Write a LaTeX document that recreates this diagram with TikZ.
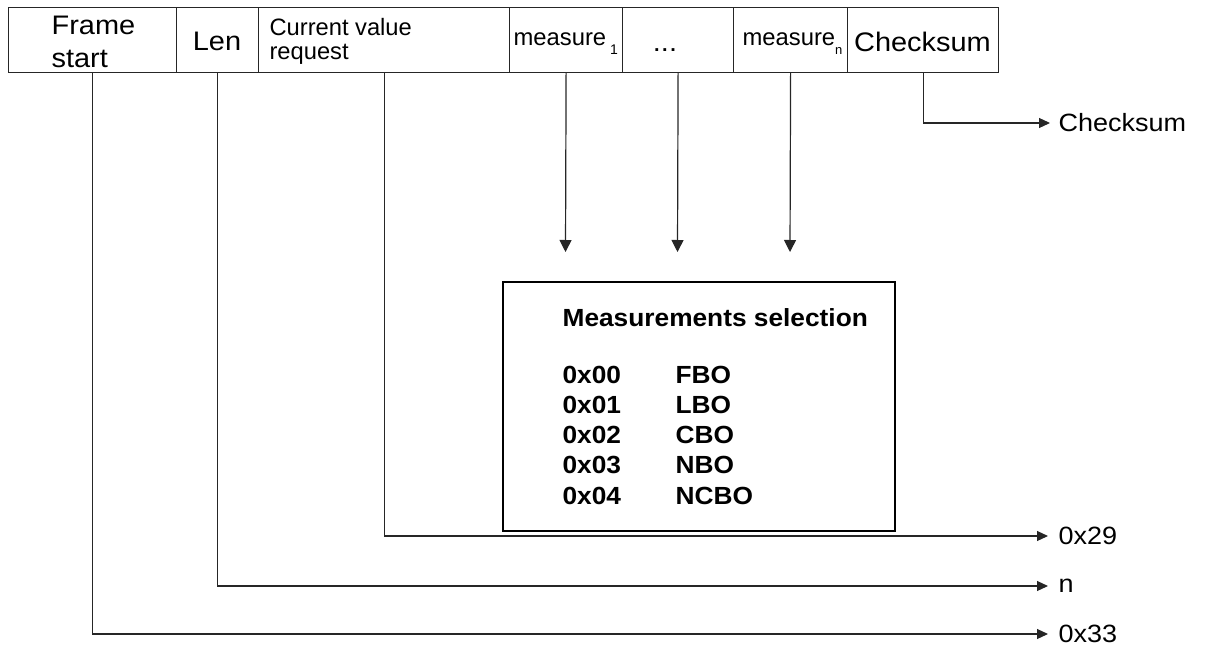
\documentclass[tikz,border=0pt]{standalone}
\usepackage{fontspec}
\setmainfont{Liberation Sans}
\newfontfamily\widefont[FakeStretch=1.08]{Liberation Sans}
\newfontfamily\widebold[FakeStretch=1.06]{Liberation Sans}
\usetikzlibrary{arrows.meta}
\begin{document}
\begin{tikzpicture}[x=0.5pt,y=-0.5pt,
  line width=0.6pt,
  fieldbox/.style={draw=black!85, inner sep=0pt, minimum height=32.5pt, anchor=north west},
  bigtext/.style={inner sep=0pt, font=\widefont\fontsize{13.4}{16.5}\selectfont},
  smalltext/.style={inner sep=0pt, font=\fontsize{11.85}{12}\selectfont},
  meastext/.style={inner sep=0pt, font=\fontsize{11.9}{12}\selectfont},
  boldtext/.style={inner sep=0pt, anchor=base west, font=\widebold\bfseries\fontsize{12.4}{14}\selectfont},
  outlabel/.style={anchor=west, inner xsep=5pt, inner ysep=0pt, font=\widefont\fontsize{12.5}{14}\selectfont},
  conn/.style={draw=black!85, line width=0.6pt},
  arr/.style={conn, -{Triangle[length=5.5pt,width=5pt]}},
  varr/.style={conn, -{Triangle[length=6pt,width=6pt]}}
]
\useasboundingbox (0,0) rectangle (1205,648);

% top frame fields
\node[fieldbox, minimum width=84pt]   (fs)  at (8,7)   {};
\node[fieldbox, minimum width=41pt]   (len) at (176,7) {};
\node[fieldbox, minimum width=125.5pt](cvr) at (258,7) {};
\node[fieldbox, minimum width=56.5pt] (m1)  at (509,7) {};
\node[fieldbox, minimum width=55.5pt] (dots) at (622,7) {};
\node[fieldbox, minimum width=57pt]   (mn)  at (733,7) {};
\node[fieldbox, minimum width=75.5pt] (cs)  at (847,7) {};

% field texts
\node[bigtext, anchor=north west, align=left] (tfs) at (51,15) {Frame\\start};
\node[bigtext, anchor=base] (tlen) at (217,50) {Len};
\node[smalltext, anchor=north west, align=left] (tcvr) at (269,18) {Current value\\request};
\node[meastext, anchor=base west] (tm1) at (513,46) {measure\,\raisebox{-4.5pt}{\fontsize{7}{7}\selectfont 1}};
\node[bigtext, anchor=base] (tdots) at (665,51) {...};
\node[meastext, anchor=base west] (tmn) at (742,46) {measure\raisebox{-4.5pt}{\fontsize{6.5}{7}\selectfont n}};
\node[bigtext, anchor=base] (tcs) at (922.5,51) {Checksum};

% measurement selection box
\node[draw=black, line width=1pt, minimum width=196pt, minimum height=124.5pt, inner sep=0pt] (msel) at (699,406.5) {};
\node[boldtext] (title) at (562,326) {Measurements selection};
\node[boldtext] (c0) at (562,383) {0x00};
\node[boldtext] (n0) at (675,383) {FBO};
\node[boldtext] (c1) at (562,413) {0x01};
\node[boldtext] (n1) at (675,413) {LBO};
\node[boldtext] (c2) at (562,443) {0x02};
\node[boldtext] (n2) at (675,443) {CBO};
\node[boldtext] (c3) at (562,473) {0x03};
\node[boldtext] (n3) at (675,473) {NBO};
\node[boldtext] (c4) at (562,504) {0x04};
\node[boldtext] (n4) at (675,504) {NCBO};

% output labels
\node[outlabel, inner xsep=4pt] (lcs) at (1050,123) {Checksum};
\node[outlabel] (l29) at (1048,536) {0x29};
\node[outlabel] (ln)  at (1048,586) {n};
\node[outlabel] (l33) at (1048,634) {0x33};

% arrow end points for measures
\coordinate (e1) at (565.5,252);
\coordinate (e2) at (677.5,252);
\coordinate (e3) at (790,252);

% connectors
\draw[arr] (cs.south) |- (lcs.west);
\draw[arr] (cvr.south) |- (l29.west);
\draw[arr] (len.south) |- (ln.west);
\draw[arr] (fs.south) |- (l33.west);
\draw[varr] (m1.south) -- (e1);
\draw[varr] (dots.south) -- (e2);
\draw[varr] (mn.south) -- (e3);
\end{tikzpicture}
\end{document}
